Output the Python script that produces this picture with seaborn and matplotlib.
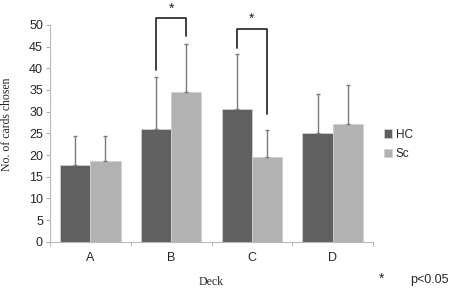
import pandas as pd
import numpy as np
import matplotlib
matplotlib.use("Agg")
import matplotlib.pyplot as plt
import seaborn as sns

decks = ["A", "B", "C", "D"]
hc_mean = [17.7, 26.0, 30.6, 25.1]
sc_mean = [18.6, 34.5, 19.6, 27.1]
hc_sd = [6.8, 12.1, 12.7, 9.0]
sc_sd = [5.9, 11.1, 6.1, 9.1]
groups = ["HC", "Sc"]
colors = ["#606060", "#b2b2b2"]

df = pd.DataFrame({
    "Deck": decks * 2,
    "Group": ["HC"] * 4 + ["Sc"] * 4,
    "Cards": hc_mean + sc_mean,
})

sns.set_style("white")
plt.rcParams['font.family'] = ['Liberation Sans', 'DejaVu Sans']

fig = plt.figure(figsize=(4.54, 2.89), dpi=100)
ax = fig.add_axes([0.110, 0.163, 0.712, 0.751])

sns.barplot(data=df, x="Deck", y="Cards", hue="Group", order=decks,
            hue_order=groups, palette=colors, width=0.75, errorbar=None,
            edgecolor="#d0d0d0", linewidth=0.6, ax=ax)

# one-sided error bars
for cont, sd in zip(ax.containers, [hc_sd, sc_sd]):
    xs = [p.get_x() + p.get_width() / 2 for p in cont.patches]
    ys = [p.get_height() for p in cont.patches]
    ax.errorbar(xs, ys, yerr=[np.zeros(len(sd)), sd], fmt="none",
                ecolor="#7a7a7a", elinewidth=1.0, capsize=1.2, capthick=1.0)

# significance brackets
hc_x = [p.get_x() + p.get_width() / 2 for p in ax.containers[0].patches]
sc_x = [p.get_x() + p.get_width() / 2 for p in ax.containers[1].patches]
brackets = [(1, 39.6, 51.6, 47.5, 53.8), (2, 44.7, 49.1, 29.5, 51.5)]
for i, yl, ytop, yr, ystar in brackets:
    ax.plot([hc_x[i], hc_x[i], sc_x[i], sc_x[i]], [yl, ytop, ytop, yr],
            color="#333333", lw=1.3, clip_on=False)
    ax.text((hc_x[i] + sc_x[i]) / 2, ystar, "*", ha="center", va="center",
            fontsize=10, color="#222222")

ax.set_ylim(0, 50)
ax.set_xlim(-0.5, 3.5)
ax.set_yticks(range(0, 51, 5))
ax.tick_params(axis="y", left=True, length=3, color="#b0b0b0", labelsize=9, pad=2)
ax.set_xticks(range(4))
ax.set_xticklabels(decks)
ax.set_xticks([-0.5, 0.5, 1.5, 2.5, 3.5], minor=True)
ax.tick_params(axis="x", which="major", length=0, labelsize=9, pad=7)
ax.tick_params(axis="x", which="minor", bottom=True, length=3, color="#b0b0b0")

for s in ["top", "right"]:
    ax.spines[s].set_visible(False)
for s in ["left", "bottom"]:
    ax.spines[s].set_color("#b8b8b8")
    ax.spines[s].set_linewidth(0.8)

ax.set_xlabel("Deck", family="Liberation Serif", fontsize=8.5, labelpad=9)
ax.set_ylabel("No. of cards chosen", family="Liberation Serif", fontsize=8.5, labelpad=6)
ax.yaxis.set_label_coords(-0.115, 0.54)

ax.legend(loc="center left", bbox_to_anchor=(1.0, 0.45), frameon=False,
          fontsize=8.5, handlelength=0.7, handleheight=0.7, handletextpad=0.3,
          labelspacing=0.6)

fig.text(0.84, 0.012, "*", fontsize=10, ha="center", va="bottom")
fig.text(0.904, 0.012, "p<0.05", fontsize=9, ha="left", va="bottom")

fig.savefig("out.png", dpi=100)
